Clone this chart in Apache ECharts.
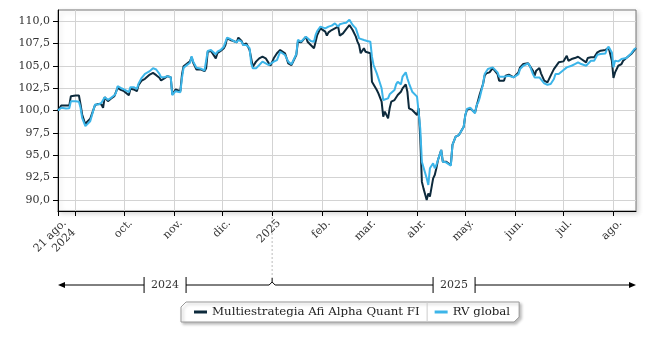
<!DOCTYPE html>
<html>
<head>
<meta charset="utf-8">
<script src="https://cdn.jsdelivr.net/npm/echarts@6/dist/echarts.min.js"></script>
<style>
  html, body { margin: 0; padding: 0; background: #fff; }
  #chart { width: 650px; height: 338px; }
</style>
</head>
<body>
<div id="chart"></div>
<script>
// Daily index values, base 100 on 21 Aug 2024
const dates = [
  '2024-08-21','2024-08-23','2024-08-26','2024-08-28','2024-08-29',
  '2024-09-01','2024-09-03','2024-09-04','2024-09-05','2024-09-07','2024-09-08','2024-09-10','2024-09-11','2024-09-13','2024-09-15','2024-09-17','2024-09-18','2024-09-19','2024-09-21','2024-09-23','2024-09-25','2024-09-26','2024-09-27','2024-09-29',
  '2024-10-01','2024-10-02','2024-10-04','2024-10-05','2024-10-07','2024-10-09','2024-10-10','2024-10-12','2024-10-14','2024-10-15','2024-10-17','2024-10-19','2024-10-21','2024-10-23','2024-10-24','2024-10-26','2024-10-28','2024-10-30','2024-10-31',
  '2024-11-02','2024-11-03','2024-11-05','2024-11-06','2024-11-07','2024-11-09','2024-11-11','2024-11-12','2024-11-13','2024-11-14','2024-11-15','2024-11-18','2024-11-20','2024-11-21','2024-11-22','2024-11-24','2024-11-25','2024-11-27','2024-11-28','2024-11-30',
  '2024-12-02','2024-12-03','2024-12-04','2024-12-06','2024-12-08','2024-12-10','2024-12-11','2024-12-13','2024-12-14','2024-12-16','2024-12-17','2024-12-18','2024-12-19','2024-12-20','2024-12-22','2024-12-24','2024-12-26','2024-12-28','2024-12-30','2024-12-31',
  '2025-01-02','2025-01-04','2025-01-06','2025-01-07','2025-01-09','2025-01-10','2025-01-11','2025-01-13','2025-01-14','2025-01-16','2025-01-17','2025-01-19','2025-01-20','2025-01-22','2025-01-23','2025-01-25','2025-01-27','2025-01-28','2025-01-29','2025-01-31',
  '2025-02-01','2025-02-03','2025-02-04','2025-02-05','2025-02-07','2025-02-08','2025-02-09','2025-02-11','2025-02-12','2025-02-14','2025-02-16','2025-02-18','2025-02-20','2025-02-22','2025-02-23','2025-02-24','2025-02-25','2025-02-27','2025-02-28',
  '2025-03-01','2025-03-03','2025-03-04','2025-03-05','2025-03-07','2025-03-08','2025-03-10','2025-03-11','2025-03-12','2025-03-14','2025-03-15','2025-03-16','2025-03-18','2025-03-19','2025-03-20','2025-03-22','2025-03-23','2025-03-25','2025-03-26','2025-03-27','2025-03-29','2025-03-30',
  '2025-04-01','2025-04-02','2025-04-03','2025-04-04','2025-04-05','2025-04-07','2025-04-08','2025-04-09','2025-04-11','2025-04-12','2025-04-13','2025-04-14','2025-04-16','2025-04-17','2025-04-19','2025-04-20','2025-04-22','2025-04-23','2025-04-25','2025-04-27','2025-04-28','2025-04-30',
  '2025-05-01','2025-05-02','2025-05-04','2025-05-05','2025-05-07','2025-05-08','2025-05-09','2025-05-10','2025-05-12','2025-05-13','2025-05-14','2025-05-15','2025-05-16','2025-05-18','2025-05-19','2025-05-21','2025-05-22','2025-05-23','2025-05-25','2025-05-26','2025-05-28','2025-05-29','2025-05-31',
  '2025-06-01','2025-06-03','2025-06-04','2025-06-06','2025-06-07','2025-06-09','2025-06-10','2025-06-12','2025-06-13','2025-06-14','2025-06-16','2025-06-17','2025-06-19','2025-06-21','2025-06-22','2025-06-23','2025-06-25','2025-06-26','2025-06-28','2025-06-29',
  '2025-07-01','2025-07-02','2025-07-03','2025-07-04','2025-07-06','2025-07-08','2025-07-09','2025-07-10','2025-07-12','2025-07-13','2025-07-15','2025-07-16','2025-07-18','2025-07-20','2025-07-21','2025-07-22','2025-07-24','2025-07-25','2025-07-27','2025-07-28','2025-07-29','2025-07-30','2025-07-31',
  '2025-08-01','2025-08-02','2025-08-04','2025-08-06','2025-08-07','2025-08-09','2025-08-10','2025-08-12','2025-08-14','2025-08-15'
];

const alphaQuant = [
  100.0,100.56,100.56,100.55,101.6,
  101.68,101.68,100.67,99.55,98.44,98.73,99.07,99.18,100.6,100.74,100.67,100.3,101.49,101.04,101.34,101.6,101.79,102.53,102.31,
  102.16,101.97,101.71,102.42,102.35,102.16,102.83,103.35,103.54,103.65,104.02,104.2,103.95,103.65,103.35,103.58,103.84,103.72,101.79,
  102.35,102.16,102.16,104.02,104.95,105.21,105.51,105.96,105.33,105.33,104.58,104.58,104.39,104.71,106.57,106.65,106.57,105.83,106.39,106.65,
  106.95,107.32,108.06,107.88,107.77,107.62,108.14,107.77,107.32,107.5,107.32,106.76,105.83,104.9,105.46,105.83,106.02,105.83,105.27,105.01,
  105.83,106.39,106.76,106.57,106.39,106.28,105.27,105.08,105.01,106.2,107.69,107.62,107.77,108.25,107.69,107.32,106.95,107.69,108.44,109.18,
  109.37,108.81,108.36,108.73,108.99,108.81,109.18,109.37,108.36,108.62,109.1,109.55,108.99,108.25,107.69,107.32,106.39,106.95,106.57,
  106.5,106.39,103.22,103.04,102.29,101.92,100.99,99.31,99.87,99.12,100.24,100.99,101.17,100.99,101.73,102.1,102.48,102.92,102.1,100.24,100.06,99.87,
  99.5,100.24,96.89,92.05,91.3,90.0,90.74,90.37,92.42,92.79,93.54,94.47,95.59,94.28,94.28,94.21,93.91,96.15,97.08,97.26,97.56,98.19,
  99.5,100.06,100.24,100.06,99.74,100.5,100.72,101.84,102.96,103.89,104.15,104.07,104.26,104.74,104.52,104.07,103.33,103.33,103.33,103.89,104.0,103.89,103.7,
  103.89,104.26,104.82,105.19,105.27,105.27,105.27,104.45,103.89,104.45,104.74,104.15,103.33,103.14,103.14,103.89,104.63,104.52,105.38,105.49,
  105.49,105.64,106.12,105.56,105.75,105.86,105.75,106.01,105.75,105.64,105.38,105.86,105.94,105.94,105.86,106.49,106.68,106.87,106.76,106.76,107.05,106.87,105.56,
  103.63,104.26,105.0,105.19,105.56,105.86,105.86,106.31,106.76,106.98
];

const rvGlobal = [
  100.0,100.3,100.22,100.26,101.04,
  101.04,100.97,100.3,99.18,98.25,98.32,98.8,98.99,100.67,100.67,100.86,100.97,101.49,101.19,101.42,101.71,101.97,102.72,102.53,
  102.35,102.16,102.05,102.61,102.61,102.42,102.98,103.65,104.1,103.95,104.4,104.73,104.58,104.1,103.72,103.72,103.84,103.72,101.71,
  102.16,101.97,102.05,103.65,104.77,105.07,105.33,106.07,105.44,105.51,104.77,104.66,104.47,104.52,106.65,106.76,106.65,106.28,106.57,106.76,
  107.13,107.32,108.14,107.99,107.77,107.62,107.88,107.69,107.32,107.32,107.13,106.95,105.27,104.71,104.71,105.08,105.46,105.27,105.08,104.9,
  105.46,105.64,106.57,106.39,106.2,106.09,105.46,105.16,105.27,106.28,107.88,107.69,107.88,108.25,108.06,107.77,107.69,108.44,108.88,109.37,
  109.37,109.18,108.99,109.37,109.48,109.55,109.74,109.37,109.63,109.74,109.8,110.15,109.55,109.18,108.62,108.06,108.25,107.88,108.06,
  107.77,107.69,106.01,105.08,104.15,103.97,102.48,101.17,101.17,101.36,101.81,101.92,102.29,102.92,103.22,102.92,103.78,104.26,103.59,103.04,102.1,102.1,
  101.55,101.73,98.0,94.28,94.28,92.42,91.68,93.54,94.1,93.54,93.91,94.47,95.59,94.28,94.21,94.21,93.84,96.15,97.08,97.26,97.56,98.19,
  99.5,100.17,100.32,100.24,99.68,100.6,100.91,101.47,102.96,104.07,104.15,104.63,104.82,104.82,104.63,104.26,103.78,103.7,103.78,103.78,103.89,103.78,103.7,
  103.89,104.07,104.63,105.0,105.12,105.27,105.0,104.07,103.7,103.63,103.7,103.78,103.03,102.88,102.96,102.96,103.52,104.07,104.07,104.26,
  104.52,104.52,104.82,104.89,105.0,105.19,105.27,105.38,105.19,105.38,105.0,105.19,105.56,105.56,105.38,106.23,106.31,106.49,106.38,106.87,107.13,106.98,106.49,
  104.82,105.56,105.49,105.75,105.86,105.86,105.94,106.38,106.87,106.98
];

const seriesNames = ['Multiestrategia Afi Alpha Quant FI', 'RV global'];
const seriesColors = ['#0d2a3c', '#3cb5e9'];

const rangeStart = '2024-08-21';
const rangeEnd = '2025-08-15';
const monthTicks = ['2024-09-01','2024-10-01','2024-11-01','2024-12-01','2025-01-01','2025-02-01',
                    '2025-03-01','2025-04-01','2025-05-01','2025-06-01','2025-07-01','2025-08-01'];
const monthNames = ['ene.','feb.','mar.','abr.','may.','jun.','jul.','ago.','sep.','oct.','nov.','dic.'];
const yTicks = [90, 92.5, 95, 97.5, 100, 102.5, 105, 107.5, 110];
const yearSpans = [
  { label: '2024', from: '2024-08-21', to: '2025-01-01' },
  { label: '2025', from: '2025-01-01', to: '2025-08-15' }
];

const FONT = '"DejaVu Serif", "Liberation Serif", serif';
const FONT_SIZE = 11;
const LEGEND_FONT_SIZE = 11.8;
const TEXT_COLOR = '#333';

const ts = s => Date.parse(s);
const xMin = ts(rangeStart);
const xMax = ts(rangeEnd);
const tickValues = [xMin].concat(monthTicks.map(ts));
// month labels that would crowd the first date label are left out
const labelValues = tickValues.filter(v => v === xMin || v - xMin > 20 * 86400000);

function dateLabel(v) {
  const d = new Date(v);
  if (v === xMin) {
    return d.getUTCDate() + ' ' + monthNames[d.getUTCMonth()] + '\n' + d.getUTCFullYear();
  }
  if (d.getUTCMonth() === 0) return String(d.getUTCFullYear());
  return monthNames[d.getUTCMonth()];
}

const chart = echarts.init(document.getElementById('chart'), null, { renderer: 'canvas' });

const legendLeft = 194;
const legendGap = 15;

chart.setOption({
  animation: false,
  backgroundColor: '#fff',
  textStyle: { fontFamily: FONT },
  grid: {
    left: 58, right: 14, top: 10, bottom: 127,
    show: true,
    backgroundColor: '#fff',
    borderColor: '#777',
    borderWidth: 1,
    shadowColor: 'rgba(0,0,0,0.16)',
    shadowBlur: 5,
    shadowOffsetX: 2,
    shadowOffsetY: 2
  },
  xAxis: {
    type: 'value',
    min: xMin,
    max: xMax,
    axisLine: { show: true, onZero: false, lineStyle: { color: '#000', width: 1 } },
    axisTick: { show: true, customValues: tickValues, length: 5, lineStyle: { color: '#000' } },
    axisLabel: {
      customValues: labelValues,
      rotate: 45,
      margin: 8,
      verticalAlign: 'top',
      padding: [0, -3, 0, 0],
      fontFamily: FONT,
      fontSize: FONT_SIZE,
      color: TEXT_COLOR,
      lineHeight: 13,
      formatter: dateLabel
    },
    splitLine: { show: true, lineStyle: { color: '#d3d3d3', width: 1 } }
  },
  yAxis: {
    type: 'value',
    min: 88.77,
    max: 111.23,
    axisLine: { show: true, onZero: false, lineStyle: { color: '#000', width: 1 } },
    axisTick: { show: true, customValues: yTicks, length: 5, lineStyle: { color: '#000' } },
    axisLabel: {
      customValues: yTicks,
      margin: 8,
      fontFamily: FONT,
      fontSize: FONT_SIZE,
      color: TEXT_COLOR,
      formatter: v => v.toFixed(1).replace('.', ',')
    },
    splitLine: { show: true, lineStyle: { color: '#d3d3d3', width: 1 } }
  },
  legend: {
    left: legendLeft,
    top: 306,
    icon: 'rect',
    itemWidth: 13,
    itemHeight: 3,
    itemGap: legendGap,
    padding: 0,
    textStyle: { fontFamily: FONT, fontSize: LEGEND_FONT_SIZE, color: '#222' },
    data: seriesNames,
    z: 10
  },
  series: [
    {
      name: seriesNames[0],
      type: 'line',
      showSymbol: false,
      color: seriesColors[0],
      lineStyle: { width: 2, color: seriesColors[0] },
      data: dates.map((d, i) => [ts(d), alphaQuant[i]])
    },
    {
      name: seriesNames[1],
      type: 'line',
      showSymbol: false,
      color: seriesColors[1],
      lineStyle: { width: 2, color: seriesColors[1] },
      data: dates.map((d, i) => [ts(d), rvGlobal[i]])
    }
  ]
});

// Year navigator below the axis and the legend frame, positioned from the axis scale
const measureCtx = document.createElement('canvas').getContext('2d');
function textWidth(str, size) {
  measureCtx.font = size + 'px ' + FONT;
  return measureCtx.measureText(str).width;
}

const px = v => chart.convertToPixel({ xAxisIndex: 0 }, v);
const lineY = 285;
const xLeft = px(xMin);
const xRight = px(xMax);
const yearBreak = px(ts(yearSpans[1].from));
const graphics = [];
const black = { stroke: '#000', lineWidth: 1 };

// gaps in the arrow line around each year label
const gaps = yearSpans.map(span => {
  const cx = (px(ts(span.from)) + px(ts(span.to))) / 2;
  const half = textWidth(span.label, FONT_SIZE) / 2 + 7;
  graphics.push({
    type: 'text', x: cx, y: lineY,
    style: { text: span.label, font: FONT_SIZE + 'px ' + FONT, fill: TEXT_COLOR, align: 'center', verticalAlign: 'middle' }
  });
  graphics.push({ type: 'line', shape: { x1: cx - half, y1: lineY - 8, x2: cx - half, y2: lineY + 8 }, style: black });
  graphics.push({ type: 'line', shape: { x1: cx + half, y1: lineY - 8, x2: cx + half, y2: lineY + 8 }, style: black });
  return [cx - half, cx + half];
});

graphics.push({ type: 'line', shape: { x1: xLeft + 5, y1: lineY, x2: gaps[0][0], y2: lineY }, style: black });
graphics.push({ type: 'polyline', shape: { points: [[gaps[0][1], lineY], [yearBreak - 3, lineY], [yearBreak, lineY - 3], [yearBreak + 3, lineY], [gaps[1][0], lineY]] }, style: Object.assign({ fill: null }, black) });
graphics.push({ type: 'line', shape: { x1: gaps[1][1], y1: lineY, x2: xRight - 5, y2: lineY }, style: black });
graphics.push({ type: 'polygon', shape: { points: [[xLeft, lineY], [xLeft + 7, lineY - 3], [xLeft + 7, lineY + 3]] }, style: { fill: '#000' } });
graphics.push({ type: 'polygon', shape: { points: [[xRight, lineY], [xRight - 7, lineY - 3], [xRight - 7, lineY + 3]] }, style: { fill: '#000' } });
// year boundary marker
graphics.push({ type: 'line', shape: { x1: yearBreak, y1: 213, x2: yearBreak, y2: lineY - 7 }, style: { stroke: '#bbb', lineWidth: 1, lineDash: [2, 2] } });
graphics.push({ type: 'line', shape: { x1: yearBreak, y1: lineY - 7, x2: yearBreak, y2: lineY - 3 }, style: black });

// legend frame with cut corners
const w1 = 13 + 5 + textWidth(seriesNames[0], LEGEND_FONT_SIZE);
const w2 = 13 + 5 + textWidth(seriesNames[1], LEGEND_FONT_SIZE);
const bx0 = legendLeft - 13;
const bx1 = legendLeft + w1 + legendGap + w2 + 9;
const by0 = 302, by1 = 322, cut = 5;
graphics.push({
  type: 'polygon', z: 1,
  shape: { points: [[bx0 + cut, by0], [bx1, by0], [bx1, by1 - cut], [bx1 - cut, by1], [bx0, by1], [bx0, by0 + cut]] },
  style: { fill: '#fff', stroke: '#999', lineWidth: 1, shadowColor: 'rgba(0,0,0,0.25)', shadowBlur: 3, shadowOffsetX: 2, shadowOffsetY: 2 }
});
const sepX = legendLeft + w1 + legendGap / 2;
graphics.push({ type: 'line', z: 2, shape: { x1: sepX, y1: by0, x2: sepX, y2: by1 }, style: { stroke: '#ccc', lineWidth: 1 } });

chart.setOption({ graphic: graphics });
</script>
</body>
</html>
